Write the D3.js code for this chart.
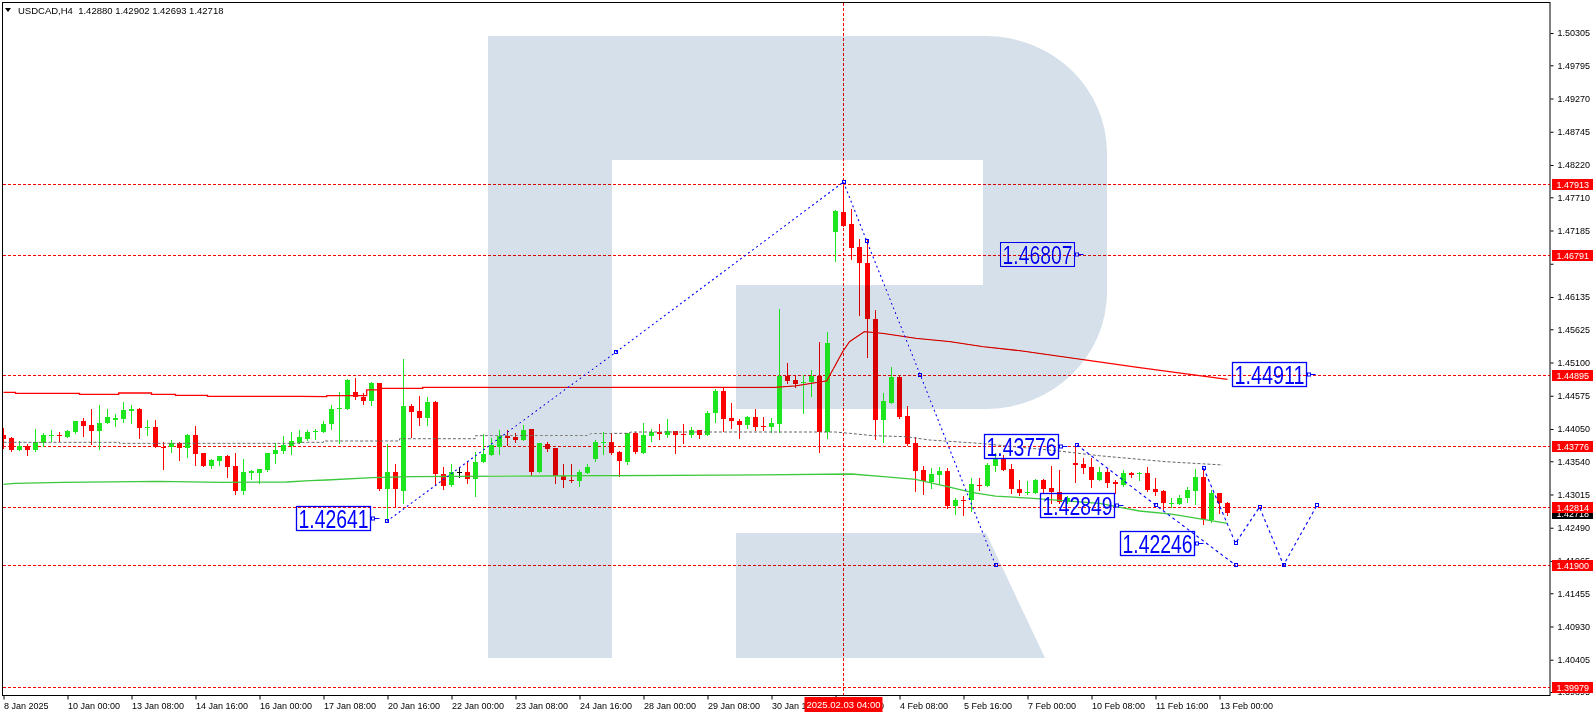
<!DOCTYPE html>
<html><head><meta charset="utf-8">
<script src="https://cdn.jsdelivr.net/npm/d3@7"></script>
<style>html,body{margin:0;padding:0;background:#fff;}svg{display:block;font-family:"Liberation Sans",Arial,sans-serif;}</style>
</head><body><svg id="c" width="1596" height="716"></svg>
<script>
// ---------- DATA ----------
const symbol = "USDCAD,H4";
const lastQuote = [1.42880, 1.42902, 1.42693, 1.42718];
const opens = [
1.43955,1.43908,1.43718,1.43781,1.43718,1.43834,1.43945,1.43955,1.43929,1.44008,
1.44177,1.44108,1.44024,1.44150,1.44192,1.44208,1.44340,1.44366,1.44071,1.44076,
1.43771,1.43760,1.43823,1.43755,1.43955,1.43666,1.43470,1.43550,1.43623,1.43465,
1.43075,1.43360,1.43360,1.43402,1.43655,1.43702,1.43781,1.43834,1.43887,1.44003,
1.44003,1.44124,1.44361,1.44372,1.44630,1.44561,1.44498,1.44783,1.43102,1.43370,
1.43075,1.44414,1.44335,1.44229,1.44477,1.43334,1.43165,1.43365,1.43365,1.43254,
1.43528,1.43644,1.43760,1.43945,1.43929,1.43881,1.44050,1.43376,1.43808,1.43750,
1.43307,1.43249,1.43233,1.43360,1.43570,1.43834,1.43844,1.43681,1.43528,1.43981,
1.43676,1.43945,1.43997,1.43955,1.44018,1.43976,1.43955,1.44029,1.43955,1.44298,
1.44651,1.44229,1.44176,1.44113,1.44240,1.44098,1.44087,1.44129,1.44893,1.44825,
1.44788,1.44793,1.44893,1.43997,1.47154,1.47481,1.47286,1.46922,1.46674,1.45783,
1.44192,1.44466,1.44872,1.44256,1.43829,1.43396,1.43206,1.43328,1.43386,1.42838,
1.42933,1.42922,1.43170,1.43143,1.43470,1.43576,1.43418,1.43102,1.43049,1.43044,
1.43244,1.43112,1.43059,1.42901,1.43518,1.43491,1.43444,1.43244,1.43365,1.43207,
1.43165,1.43360,1.43339,1.43349,1.43102,1.43075,1.42870,1.42870,1.42954,1.43070,
1.43296,1.42611,1.43033,1.42880];
const highs = [
1.44061,1.43929,1.43860,1.43808,1.44050,1.43982,1.44034,1.43997,1.44034,1.44182,
1.44219,1.44361,1.44429,1.44366,1.44287,1.44477,1.44429,1.44387,1.44192,1.44192,
1.43839,1.43876,1.43845,1.43966,1.44098,1.43676,1.43581,1.43623,1.43639,1.43665,
1.43576,1.43402,1.43413,1.43676,1.43834,1.43940,1.44003,1.44034,1.44034,1.44055,
1.44177,1.44424,1.44640,1.44835,1.44851,1.44625,1.44788,1.44783,1.43808,1.43491,
1.45157,1.44445,1.44567,1.44561,1.44488,1.43449,1.43491,1.43439,1.43539,1.43692,
1.43966,1.43902,1.44034,1.44034,1.43992,1.44119,1.44050,1.43823,1.43839,1.43750,
1.43491,1.43491,1.43402,1.43497,1.43876,1.44008,1.43982,1.43702,1.43990,1.44003,
1.44150,1.44050,1.44129,1.44213,1.44018,1.44129,1.44082,1.44029,1.44340,1.44682,
1.44693,1.44466,1.44203,1.44256,1.44366,1.44235,1.44224,1.45946,1.45097,1.44893,
1.44898,1.44982,1.45420,1.45584,1.47512,1.47913,1.47528,1.47054,1.47038,1.45931,
1.44614,1.45025,1.44882,1.44414,1.43929,1.43466,1.43428,1.43444,1.43428,1.42954,
1.42986,1.43270,1.43270,1.43518,1.43665,1.43639,1.43497,1.43244,1.43233,1.43254,
1.43254,1.43465,1.43402,1.42990,1.43771,1.43586,1.43586,1.43455,1.43428,1.43244,
1.43402,1.43376,1.43376,1.43455,1.43270,1.43086,1.42954,1.43007,1.43138,1.43412,
1.43412,1.43086,1.43044,1.42902];
const lows = [
1.43744,1.43702,1.43710,1.43639,1.43702,1.43781,1.43866,1.43866,1.43918,1.43992,
1.43939,1.43813,1.43739,1.44140,1.44098,1.44166,1.44140,1.43913,1.43955,1.43771,
1.43423,1.43692,1.43565,1.43613,1.43481,1.43470,1.43439,1.43486,1.43286,1.43017,
1.43017,1.43265,1.43191,1.43391,1.43518,1.43676,1.43660,1.43823,1.43876,1.43887,
1.44003,1.44055,1.43823,1.44372,1.44524,1.44445,1.44424,1.43091,1.42641,1.42812,
1.42885,1.43924,1.44119,1.44108,1.43159,1.43107,1.43154,1.43286,1.43202,1.42996,
1.43528,1.43644,1.43650,1.43797,1.43839,1.43876,1.43328,1.43376,1.43702,1.43202,
1.43138,1.43217,1.43154,1.43349,1.43540,1.43655,1.43655,1.43307,1.43500,1.43665,
1.43665,1.43866,1.43887,1.43929,1.43676,1.43834,1.43929,1.43913,1.43950,1.44166,
1.44018,1.44071,1.43913,1.44071,1.44034,1.44034,1.43997,1.43997,1.44772,1.44719,
1.44308,1.44577,1.43692,1.43903,1.46711,1.47250,1.46732,1.45850,1.45194,1.43886,
1.43850,1.44466,1.44224,1.43802,1.43075,1.43017,1.43122,1.43180,1.42796,1.42701,
1.42691,1.42759,1.43085,1.43143,1.43391,1.43402,1.43033,1.43007,1.43028,1.43044,
1.43059,1.42886,1.42886,1.42880,1.43217,1.43349,1.43138,1.43244,1.43138,1.43044,
1.43149,1.43296,1.43244,1.43075,1.43007,1.42780,1.42812,1.42870,1.42901,1.42864,
1.42542,1.42582,1.42717,1.42693];
const closes = [
1.43892,1.43718,1.43781,1.43718,1.43839,1.43950,1.43955,1.43945,1.44018,1.44171,
1.44103,1.44024,1.44145,1.44240,1.44224,1.44345,1.44366,1.44071,1.44082,1.43771,
1.43760,1.43823,1.43755,1.43955,1.43660,1.43470,1.43560,1.43623,1.43455,1.43075,
1.43365,1.43386,1.43413,1.43666,1.43718,1.43792,1.43860,1.43924,1.44003,1.44024,
1.44129,1.44366,1.44382,1.44820,1.44551,1.44498,1.44772,1.43107,1.43376,1.43102,
1.44414,1.44319,1.44229,1.44477,1.43339,1.43154,1.43365,1.43365,1.43254,1.43528,
1.43655,1.43792,1.43940,1.43913,1.43876,1.44034,1.43376,1.43823,1.43734,1.43307,
1.43244,1.43233,1.43370,1.43455,1.43844,1.43839,1.43676,1.43544,1.43981,1.43692,
1.43955,1.43997,1.43966,1.44013,1.43955,1.43966,1.44034,1.43955,1.44298,1.44656,
1.44213,1.44182,1.44113,1.44240,1.44087,1.44087,1.44145,1.44893,1.44803,1.44761,
1.44798,1.44893,1.43997,1.45410,1.47486,1.47260,1.46906,1.46669,1.45783,1.44192,
1.44492,1.44872,1.44240,1.43813,1.43386,1.43222,1.43344,1.43386,1.42838,1.42933,
1.42922,1.43186,1.43143,1.43486,1.43586,1.43402,1.43096,1.43044,1.43059,1.43244,
1.43096,1.43059,1.42901,1.42960,1.43476,1.43428,1.43244,1.43376,1.43191,1.43175,
1.43360,1.43323,1.43349,1.43086,1.43059,1.42875,1.42880,1.42954,1.43086,1.43291,
1.42626,1.43033,1.42874,1.42718];

const priceTicks = [1.50305,1.49795,1.49270,1.48745,1.48220,1.47710,1.47185,1.46660,1.46135,1.45625,1.45100,
  1.44575,1.44050,1.43540,1.43015,1.42490,1.41965,1.41455,1.40930,1.40405,1.39895];
const hiddenTickLabels = [1.46660];
const timeTickBars = [0,8,16,24,32,40,48,56,64,72,80,88,96,104,112,120,128,136,144,152];
const timeTickLabels = ["8 Jan 2025","10 Jan 00:00","13 Jan 08:00","14 Jan 16:00","16 Jan 00:00","17 Jan 08:00",
  "20 Jan 16:00","22 Jan 00:00","23 Jan 08:00","24 Jan 16:00","28 Jan 00:00","29 Jan 08:00","30 Jan 16:00",
  "3 Feb 00:00","4 Feb 08:00","5 Feb 16:00","7 Feb 00:00","10 Feb 08:00","11 Feb 16:00","13 Feb 00:00"];
const levels = [1.47913,1.46791,1.44895,1.43776,1.42814,1.41900,1.39979];
const currentPrice = 1.42718;
const crossBar = 105;
const crossLabel = "2025.02.03 04:00";

// moving averages: [bar, price]
const maRed = [[0,1.44629],[1.5,1.44629],[1.5,1.44613],[9.5,1.44613],[9.5,1.44597],[14.4,1.44597],[14.4,1.44618],
  [18.5,1.44618],[18.5,1.44597],[21.5,1.44597],[21.5,1.44582],[25.5,1.44582],[25.5,1.44566],[37,1.44566],[40.4,1.44560],
  [40.4,1.44576],[45.4,1.44576],[45.4,1.44666],[47,1.44666],[47,1.44692],[52.4,1.44692],[52.4,1.44708],[96.4,1.44708],
  [99,1.44730],[102.9,1.44808],[104.9,1.45271],[105.75,1.45429],[107.6,1.45587],[109.9,1.45561],[114.1,1.45482],
  [118.3,1.45429],[122.4,1.45350],[127,1.45287],[142,1.45018],[153,1.44832]];
const maGreen = [[0,1.43176],[1.4,1.43191],[7.4,1.43207],[19.3,1.43223],[27.4,1.43207],[35.4,1.43212],[38.3,1.43233],
  [40.4,1.43244],[46.1,1.43280],[51.1,1.43296],[67.4,1.43307],[90,1.43320],[106,1.43339],[110,1.43296],[114,1.43255],
  [118,1.43138],[121,1.43050],[124,1.42990],[128.7,1.42954],[137,1.42875],[142,1.42754],[146,1.42706],[153,1.42559]];
const maGrey = [[0,1.43839],[14.5,1.43839],[14.5,1.43823],[37,1.43823],[37,1.43839],[40,1.43839],[40,1.43860],
  [49.5,1.43860],[49.5,1.43896],[59,1.43896],[59,1.43944],[73,1.43944],[73.5,1.43981],[78,1.43981],[78.5,1.44002],
  [104,1.44002],[105.75,1.43981],[108.7,1.43944],[112.8,1.43928],[115.75,1.43876],[122,1.43823],[131.6,1.43706],
  [137,1.43627],[145.3,1.43533],[152.4,1.43481]];

// forecast drawings: [bar, price]
const waveUp = [[47.9,1.42590],[76.5,1.45260],[105,1.47950]];
const waveDown = [[105,1.47950],[107.9,1.47018],[114.6,1.44903],[124,1.41900]];
const pathA = [[134.2,1.43797],[144,1.42849],[154,1.41900]];
const pathB = [[150,1.43435],[154,1.42246],[157,1.42814],[160,1.41900],[164.2,1.42849]];

// text labels: price and anchor bar
const labelPrices = [1.46807,1.44911,1.43776,1.42849,1.42246,1.42641];
const labelBars = [135,164,133,140,150,47];

// ---------- DRAWING ----------
const svg = d3.select("#c");
svg.append("rect").attr("width",1596).attr("height",716).attr("fill","#fff");
const X0 = 3, X1 = 1550, Y0 = 3, Y1 = 695;
const x = d3.scaleLinear().domain([0,1]).range([3.5,11.5]);
const y = d3.scaleLinear().domain([1.39895,1.50305]).range([692,33]);
const py = v => Math.round(y(v)) + 0.5;
const FONT = '"Liberation Sans",Arial,sans-serif';

svg.append("defs").append("clipPath").attr("id","clip")
  .append("rect").attr("x",X0).attr("y",Y0).attr("width",X1-X0).attr("height",Y1-Y0);
const plot = svg.append("g").attr("clip-path","url(#clip)");

// horizontal levels
plot.selectAll("line.lvl").data(levels).join("line").attr("class","lvl")
  .attr("x1",X0).attr("x2",X1).attr("y1",d=>py(d)).attr("y2",d=>py(d))
  .attr("stroke","#ff0000").attr("stroke-width",1).attr("stroke-dasharray","3,2");

// crosshair vertical
plot.append("line").attr("x1",x(crossBar)).attr("x2",x(crossBar)).attr("y1",Y0).attr("y2",Y1)
  .attr("stroke","#ff0000").attr("stroke-width",1).attr("stroke-dasharray","3,2");

// candles
const idx = d3.range(opens.length);
const col = i => closes[i] > opens[i] ? "#1ee61e" : (closes[i] < opens[i] ? "#ff0000" : "#000000");
plot.selectAll("line.wick").data(idx).join("line").attr("class","wick")
  .attr("x1",i=>x(i)).attr("x2",i=>x(i))
  .attr("y1",i=>Math.round(y(highs[i]))).attr("y2",i=>Math.round(y(lows[i]))+1)
  .attr("stroke",col).attr("stroke-width",1);
plot.selectAll("rect.body").data(idx).join("rect").attr("class","body")
  .attr("x",i=>x(i)-2.5).attr("width",5)
  .attr("y",i=>Math.round(y(Math.max(opens[i],closes[i]))))
  .attr("height",i=>Math.max(1, Math.round(y(Math.min(opens[i],closes[i]))) - Math.round(y(Math.max(opens[i],closes[i])))))
  .attr("fill",col);

// moving averages
const ln = d3.line().x(d=>x(d[0])).y(d=>y(d[1]));
plot.append("path").datum(maGrey).attr("d",ln).attr("fill","none").attr("stroke","#666666")
  .attr("stroke-width",1).attr("stroke-dasharray","3,2");
plot.append("path").datum(maGreen).attr("d",ln).attr("fill","none").attr("stroke","#3cc83c").attr("stroke-width",1.3);
plot.append("path").datum(maRed).attr("d",ln).attr("fill","none").attr("stroke","#ff0000").attr("stroke-width",1.3);

// forecast dotted paths
const blue = "#0000ff";
[waveUp, waveDown].forEach(p=>{
  plot.append("path").datum(p).attr("d",ln).attr("fill","none").attr("stroke",blue)
    .attr("stroke-width",1.1).attr("stroke-dasharray","2,3");
});
[pathA, pathB].forEach(p=>{
  plot.append("path").datum(p).attr("d",ln).attr("fill","none").attr("stroke",blue)
    .attr("stroke-width",1.1).attr("stroke-dasharray","3,3");
});
const nodes = [].concat(waveUp, waveDown, pathA, pathB);
plot.selectAll("rect.node").data(nodes).join("rect").attr("class","node")
  .attr("x",d=>Math.round(x(d[0]))-1.5).attr("y",d=>Math.round(y(d[1]))-1.5)
  .attr("width",3).attr("height",3).attr("fill","none").attr("stroke",blue).attr("stroke-width",1);

// labels with boxes
const lab = plot.selectAll("g.lab").data(d3.range(labelPrices.length)).join("g").attr("class","lab");
lab.each(function(i){
  const g = d3.select(this);
  const ax = x(labelBars[i]), cy = Math.round(y(labelPrices[i])) + 0.5;
  const right = Math.round(ax - 10) + 0.5, w = 74, h = 24;
  g.append("line").attr("x1",right).attr("x2",ax).attr("y1",cy).attr("y2",cy).attr("stroke",blue).attr("stroke-width",1);
  g.append("rect").attr("x",right+1).attr("y",cy-1.5).attr("width",3).attr("height",3).attr("fill","#fff").attr("stroke",blue);
  g.append("rect").attr("x",right-w).attr("y",cy-h/2).attr("width",w).attr("height",h)
    .attr("fill","none").attr("stroke",blue).attr("stroke-width",1.3);
  g.append("text").attr("x",right-w+2).attr("y",cy+9).attr("font-family",FONT).attr("font-size",25)
    .attr("fill",blue).attr("textLength",70).attr("lengthAdjust","spacingAndGlyphs")
    .text(labelPrices[i].toFixed(5));
});

// watermark (darken blend on top of plot)
const wm = svg.append("g").style("mix-blend-mode","darken").attr("clip-path","url(#clip)");
wm.append("path").attr("fill","#d6e0eb")
  .attr("d","M488,36 H986 A121,117 0 0 1 1107,153 V292 A121,117 0 0 1 986,409 H736 V285 H983 V160 H612 V658 H488 Z");
wm.append("path").attr("fill","#d6e0eb").attr("d","M736,533 H986 L1045,658 H736 Z");

// frame
svg.append("rect").attr("x",2.5).attr("y",2.5).attr("width",X1-2.5).attr("height",Y1-2.5+0.5)
  .attr("fill","none").attr("stroke","#000").attr("stroke-width",1);

// right axis
const yAxis = d3.axisRight(y).tickValues(priceTicks)
  .tickFormat(d => hiddenTickLabels.includes(d) ? "" : d3.format(".5f")(d)).tickSize(3).tickPadding(4);
svg.append("g").attr("transform",`translate(${X1+0.5},0)`).call(yAxis)
  .call(g=>g.select(".domain").remove())
  .attr("font-family",FONT).attr("font-size",9)
  .call(g=>g.selectAll("text").attr("fill","#000"));

// bottom axis
const xAxis = d3.axisBottom(x).tickValues(timeTickBars).tickFormat((d,i)=>timeTickLabels[i]).tickSize(4).tickPadding(3);
svg.append("g").attr("transform",`translate(0,${Y1+0.5})`).call(xAxis)
  .call(g=>g.select(".domain").remove())
  .attr("font-family",FONT).attr("font-size",9).attr("text-anchor","start")
  .call(g=>g.selectAll("text").attr("fill","#000").attr("dx",0));

// current price label (black)
const cpy = Math.round(y(currentPrice));
svg.append("rect").attr("x",1552).attr("y",cpy-5).attr("width",41).attr("height",11).attr("fill","#000");
svg.append("text").attr("x",1556.5).attr("y",cpy+3.5).attr("font-family",FONT).attr("font-size",9)
  .attr("fill","#fff").text(currentPrice.toFixed(5));

// level labels on axis
levels.forEach(v=>{
  const ly = Math.round(y(v));
  svg.append("rect").attr("x",1552).attr("y",ly-5).attr("width",41).attr("height",11).attr("fill","#ff0000");
  svg.append("text").attr("x",1556.5).attr("y",ly+3.5).attr("font-family",FONT).attr("font-size",9)
    .attr("fill","#fff").text(v.toFixed(5));
});

// crosshair time label
const cx = x(crossBar);
svg.append("rect").attr("x",cx-39).attr("y",697).attr("width",78).attr("height",15).attr("fill","#ff0000");
svg.append("text").attr("x",cx).attr("y",708).attr("text-anchor","middle").attr("font-family",FONT)
  .attr("font-size",9.5).attr("fill","#fff").text(crossLabel);

// header
svg.append("path").attr("d","M5,8 L11,8 L8,12 Z").attr("fill","#000");
svg.append("text").attr("x",18).attr("y",14).attr("font-family",FONT).attr("font-size",9.5)
  .style("white-space","pre").attr("fill","#000")
  .text(symbol + "  " + lastQuote.map(v=>v.toFixed(5)).join(" "));
</script></body></html>
